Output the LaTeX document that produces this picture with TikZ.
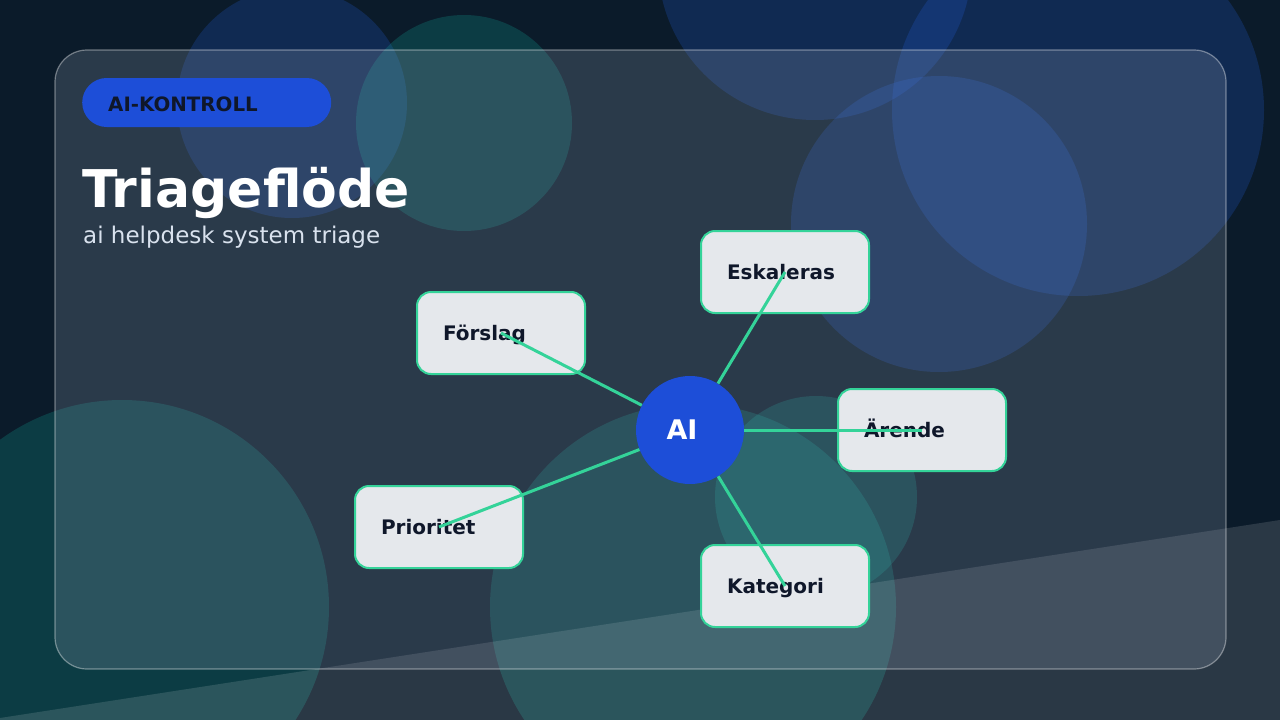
\documentclass[tikz,border=0pt]{standalone}
\usepackage{fontspec}
\setmainfont{DejaVu Sans}
\definecolor{bgc}{HTML}{0B1B2A}
\definecolor{blobblue}{HTML}{2563EB}
\definecolor{blobteal}{HTML}{14B8A6}
\definecolor{panelc}{HTML}{94A3B8}
\definecolor{aiblue}{HTML}{1D4ED8}
\definecolor{boxfill}{HTML}{E5E8EC}
\definecolor{mint}{HTML}{34D399}
\definecolor{inkc}{HTML}{0F172A}
\definecolor{subc}{HTML}{D9E2EE}
\tikzset{
  blueblob/.style={fill=blobblue, fill opacity=0.21},
  tealblob/.style={fill=blobteal, fill opacity=0.21},
  panelbox/.style={fill=panelc, fill opacity=0.23, draw=white, draw opacity=0.38, line width=1.2pt, rounded corners=32pt},
  badgebox/.style={fill=aiblue, rounded corners=24.5pt, minimum height=49pt, inner xsep=26pt, inner ysep=0pt,
     text width=197pt, align=left, text height=17pt, text depth=0pt, text=inkc, font=\bfseries\fontsize{19.8}{23}\selectfont},
  stepbox/.style={fill=boxfill, draw=mint, line width=2pt, rounded corners=14pt,
     minimum width=168pt, minimum height=82pt, inner xsep=26pt, inner ysep=0pt, text width=116pt, align=left,
     text height=14pt, text depth=0pt, text=inkc, font=\bfseries\fontsize{20}{23}\selectfont},
  hubnode/.style={circle, fill=aiblue, minimum size=108pt, inner sep=0pt, text=white, font=\bfseries\fontsize{27}{30}\selectfont},
  conn/.style={draw=mint, line width=3pt},
}
\begin{document}
\begin{tikzpicture}[x=1pt,y=-1pt]
\useasboundingbox (0,0) rectangle (1280,720);
\clip (0,0) rectangle (1280,720);
\fill[bgc] (0,0) rectangle (1280,720);
% background blobs
\fill[blueblob] (292,103) circle (115);
\fill[tealblob] (464,123) circle (108);
\fill[blueblob] (815,-37) circle (157);
\fill[blueblob] (1078,110) circle (186);
\fill[blueblob] (939,224) circle (148);
\fill[tealblob] (122,607) circle (207);
\fill[tealblob] (693,607) circle (203);
\fill[tealblob] (816,497) circle (101);
% light wedge
\fill[white, fill opacity=0.13] (0,718) -- (1280,520) -- (1280,720) -- (0,720) -- cycle;
% panel
\draw[panelbox] (55,50) rectangle (1226,669);
% header
\node[badgebox, anchor=west] (badge) at (82,102.5) {AI-KONTROLL};
\node[anchor=base west, inner sep=0pt, text=white, font=\bfseries\fontsize{52}{56}\selectfont] (title) at (82,207) {Triageflöde};
\node[anchor=base west, inner sep=0pt, text=subc, font=\fontsize{23}{26}\selectfont] (subtitle) at (83,243) {ai helpdesk system triage};
% hub and steps
\node[hubnode] (ai) at (690,430) {\hspace*{-16pt}AI};
\node[stepbox] (forslag) at (501,333) {Förslag};
\node[stepbox] (eskaleras) at (785,272) {Eskaleras};
\node[stepbox] (arende) at (922,430) {Ärende};
\node[stepbox] (prioritet) at (439,527) {Prioritet};
\node[stepbox] (kategori) at (785,586) {Kategori};
% connectors
\draw[conn] (ai) -- (forslag.center);
\draw[conn] (ai) -- (eskaleras.center);
\draw[conn] (ai) -- (arende.center);
\draw[conn] (ai) -- (prioritet.center);
\draw[conn] (ai) -- (kategori.center);
\end{tikzpicture}
\end{document}
